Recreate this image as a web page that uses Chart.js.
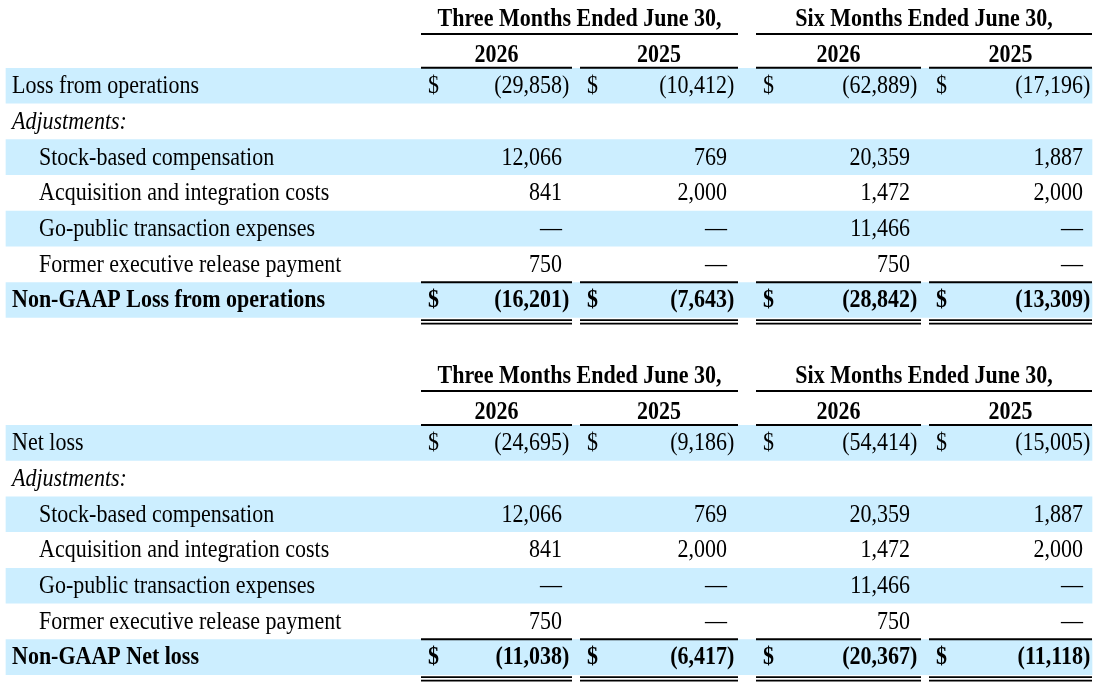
<!DOCTYPE html>
<html>
<head>
<meta charset="utf-8">
<title>Non-GAAP reconciliation</title>
<script src="https://cdn.jsdelivr.net/npm/chart.js@4/dist/chart.umd.min.js"></script>
<style>
    html, body { margin: 0; padding: 0; background: #ffffff; }
    #wrap { width: 1096px; height: 688px; }
</style>
</head>
<body>
<div id="wrap"><canvas id="table" width="1096" height="688"></canvas></div>
<script>
// Datos de la tabla
const periods = ['Three Months Ended June 30,', 'Six Months Ended June 30,'];
const years = ['2026', '2025', '2026', '2025'];
const adjustmentLabels = [
    'Stock-based compensation',
    'Acquisition and integration costs',
    'Go-public transaction expenses',
    'Former executive release payment'
];
const stockComp = [12066, 769, 20359, 1887];
const acquisitionCosts = [841, 2000, 1472, 2000];
const goPublicCosts = [null, null, 11466, null];
const releasePayment = [750, null, 750, null];

const opsLoss = [-29858, -10412, -62889, -17196];
const opsNonGaap = [-16201, -7643, -28842, -13309];
const netLoss = [-24695, -9186, -54414, -15005];
const netNonGaap = [-11038, -6417, -20367, -11118];

const tables = [
    { start: 0, first: 'Loss from operations', firstValues: opsLoss, total: 'Non-GAAP Loss from operations', totalValues: opsNonGaap },
    { start: 10, first: 'Net loss', firstValues: netLoss, total: 'Non-GAAP Net loss', totalValues: netNonGaap }
];
const adjustments = [stockComp, acquisitionCosts, goPublicCosts, releasePayment];

// Estilo / posiciones de columnas (en unidades del eje x = px)
const FONT = '"Liberation Serif", "Times New Roman", serif';
const SHADE = '#cceeff';
const STRETCH = 1.1; // el texto original es algo más alto que ancho
const rowLeft = 6, rowRight = 1092;
const labelX = 12, indentX = 39;
const dollarX = [428, 587, 763, 936];
const numRight = [562, 727, 910, 1083];
const periodSpans = [[421, 738], [756, 1092]];
const yearSpans = [[421, 572], [580, 738], [756, 921], [929, 1092]];

function fmt(v) {
    if (v === null) return '—';
    return Math.abs(v).toLocaleString('en-US');
}

// Filas sombreadas como barras flotantes
const shadedRows = [];
tables.forEach(t => {
    [2, 4, 6, 8].forEach(k => shadedRows.push({ y: t.start + k, x: [rowLeft, rowRight] }));
});

const tablePlugin = {
    id: 'tableText',
    afterDatasetsDraw(chart) {
        const ctx = chart.ctx;
        const xs = chart.scales.x;
        const ys = chart.scales.y;
        const px = v => xs.getPixelForValue(v);
        const py = v => ys.getPixelForValue(v);

        ctx.save();
        ctx.fillStyle = '#000';
        ctx.strokeStyle = '#000';
        ctx.textBaseline = 'middle';

        function text(str, x, y, align) {
            ctx.save();
            ctx.textAlign = align;
            ctx.translate(x, y);
            ctx.scale(1, STRETCH);
            ctx.fillText(str, 0, 0);
            ctx.restore();
        }

        function hline(spans, y, w) {
            ctx.lineWidth = w;
            spans.forEach(s => {
                ctx.beginPath();
                ctx.moveTo(px(s[0]), y);
                ctx.lineTo(px(s[1]), y);
                ctx.stroke();
            });
        }

        function valueRow(row, values, dollar, bold) {
            const y = py(row) + 1;
            ctx.font = (bold ? 'bold ' : '') + '22px ' + FONT;
            values.forEach((v, i) => {
                if (dollar) text('$', px(dollarX[i]), y, 'left');
                const s = fmt(v);
                if (v !== null && v < 0) {
                    text('(' + s, px(numRight[i]), y, 'right');
                    text(')', px(numRight[i]), y, 'left');
                } else {
                    text(s, px(numRight[i]), y, 'right');
                }
            });
        }

        tables.forEach(t => {
            const r = t.start;
            // Encabezados
            ctx.font = 'bold 22px ' + FONT;
            periods.forEach((p, i) => {
                text(p, px((periodSpans[i][0] + periodSpans[i][1]) / 2), py(r) + 5, 'center');
            });
            years.forEach((yr, i) => {
                text(yr, px((yearSpans[i][0] + yearSpans[i][1]) / 2), py(r + 1) + 6, 'center');
            });
            hline(periodSpans, py(r + 0.55), 2);
            hline(yearSpans, py(r + 1.5), 2);

            // Etiquetas
            ctx.font = '22px ' + FONT;
            text(t.first, px(labelX), py(r + 2) + 1, 'left');
            ctx.font = 'italic 22px ' + FONT;
            text('Adjustments:', px(labelX), py(r + 3) + 1, 'left');
            ctx.font = '22px ' + FONT;
            adjustmentLabels.forEach((lab, k) => {
                text(lab, px(indentX), py(r + 4 + k) + 1, 'left');
            });
            ctx.font = 'bold 22px ' + FONT;
            text(t.total, px(labelX), py(r + 8) + 1, 'left');

            // Valores
            valueRow(r + 2, t.firstValues, true, false);
            adjustments.forEach((vals, k) => valueRow(r + 4 + k, vals, false, false));
            valueRow(r + 8, t.totalValues, true, true);

            // Líneas de total
            hline(yearSpans, py(r + 7.5), 2);
            hline(yearSpans, py(r + 8.5) + 2.2, 1.8);
            hline(yearSpans, py(r + 8.5) + 5.7, 1.8);
        });
        ctx.restore();
    }
};

new Chart(document.getElementById('table'), {
    type: 'bar',
    data: {
        datasets: [{
            label: 'shade',
            data: shadedRows,
            backgroundColor: SHADE,
            borderWidth: 0,
            barThickness: 35
        }]
    },
    options: {
        indexAxis: 'y',
        responsive: false,
        animation: false,
        layout: { padding: { top: 0, bottom: 13, left: 0, right: 0 } },
        plugins: {
            legend: { display: false },
            tooltip: { enabled: false }
        },
        scales: {
            x: { type: 'linear', min: 0, max: 1096, offset: false, display: false },
            y: { type: 'linear', min: -0.4, max: 18.5, reverse: true, offset: false, display: false }
        }
    },
    plugins: [tablePlugin]
});
</script>
</body>
</html>
